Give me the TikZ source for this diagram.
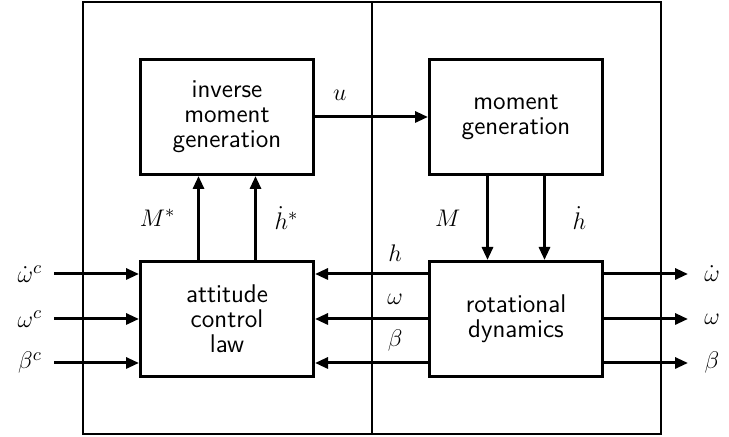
\documentclass[tikz,border=0pt]{standalone}
\usepackage{amsmath,amssymb}
\usepackage{tikz}
\usetikzlibrary{positioning,arrows.meta}

\begin{document}
\begin{tikzpicture}[x=0.5pt,y=0.5pt,
  font=\fontsize{12.5}{13}\selectfont,
  block/.style={draw,line width=1.5pt,minimum width=86.5pt,minimum height=57.5pt,
    align=center,inner sep=0pt,font=\sffamily\fontsize{12.8}{12.5}\selectfont},
  sig/.style={line width=1.5pt,-{Triangle[length=6.5pt,width=5.5pt]}}]
\useasboundingbox (0,0) rectangle (729,437);
% frame and split line
\draw[line width=1.3pt] (83,3) rectangle (661,435);
\draw[line width=0.8pt] (372,3) -- (372,435);
% blocks
\node[block] (ctrl) at (227,118) {attitude\\control\\law};
\node[block,right=56.5pt of ctrl] (dyn) {rotational\\dynamics};
\node[block,above=42pt of ctrl] (inv) {inverse\\moment\\generation};
\node[block,above=42pt of dyn] (gen) {moment\\generation};
% signal rows
\coordinate (r1) at (0,163);
\coordinate (r2) at (0,118);
\coordinate (r3) at (0,74);
\coordinate (in) at (54,0);
\coordinate (out) at (688,0);
% inputs
\node (wcd) at (30,163) {$\dot\omega^c$};
\node (wc) at (30,118) {$\omega^c$};
\node (bc) at (30,74) {$\beta^c$};
\draw[sig] (in |- r1) -- (ctrl.west |- r1);
\draw[sig] (in |- r2) -- (ctrl.west |- r2);
\draw[sig] (in |- r3) -- (ctrl.west |- r3);
% outputs
\node (wdo) at (712,163) {$\dot\omega$};
\node (wo) at (712,118) {$\omega$};
\node (bo) at (712,74) {$\beta$};
\draw[sig] (dyn.east |- r1) -- (out |- r1);
\draw[sig] (dyn.east |- r2) -- (out |- r2);
\draw[sig] (dyn.east |- r3) -- (out |- r3);
% feedback
\draw[sig] (dyn.west |- r1) -- node[above=2pt,pos=0.29]{$h$} (ctrl.east |- r1);
\draw[sig] (dyn.west |- r2) -- node[above=3pt,pos=0.29]{$\omega$} (ctrl.east |- r2);
\draw[sig] (dyn.west |- r3) -- node[above=2pt,pos=0.29]{$\beta$} (ctrl.east |- r3);
% control to inverse moment generation
\draw[sig] ([xshift=-14.25pt]ctrl.north) -- node[left=7.5pt]{$M^*$} ([xshift=-14.25pt]inv.south);
\draw[sig] ([xshift=14.25pt]ctrl.north) -- node[right=5.5pt]{$\dot h^*$} ([xshift=14.25pt]inv.south);
\draw[sig] (inv.east) -- node[above=4pt,pos=0.22]{$u$} (gen.west);
% moment generation to dynamics
\draw[sig] ([xshift=-14.25pt]gen.south) -- node[left=9.5pt]{$M$} ([xshift=-14.25pt]dyn.north);
\draw[sig] ([xshift=14.25pt]gen.south) -- node[right=10pt]{$\dot h$} ([xshift=14.25pt]dyn.north);
\end{tikzpicture}
\end{document}
